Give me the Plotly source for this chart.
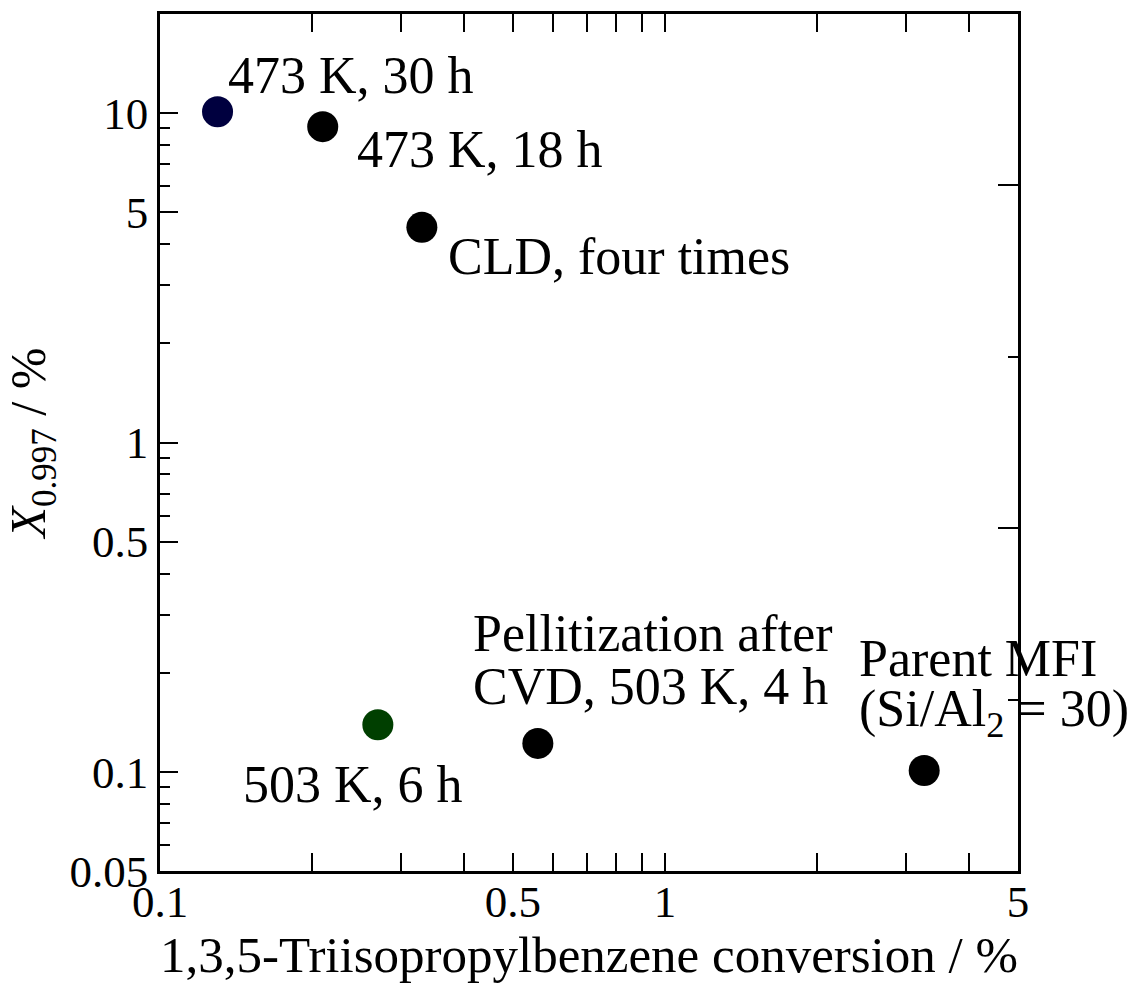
import plotly.graph_objects as go
import math

# ---- data ----
labels = ["473 K, 30 h", "473 K, 18 h", "CLD, four times", "503 K, 6 h",
          "Pellitization after CVD, 503 K, 4 h", "Parent MFI (Si/Al2 = 30)"]
tipb_conv = [0.13, 0.21, 0.33, 0.27, 0.56, 3.26]      # x, %
x0997 = [10.1, 9.1, 4.5, 0.139, 0.122, 0.101]          # y, %
colors = ["#00003f", "#000000", "#000000", "#003f00", "#000000", "#000000"]

x_major = [0.1, 0.5, 1, 5]
x_major_text = ["0.1", "0.5", "1", "5"]
x_minor = [0.2, 0.3, 0.4, 0.6, 0.7, 0.8, 0.9, 2, 3, 4]
y_major = [0.05, 0.1, 0.5, 1, 5, 10]
y_major_text = ["0.05", "0.1", "0.5", "1", "5", "10"]
y_minor = [0.06, 0.07, 0.08, 0.09, 0.2, 0.3, 0.4, 0.6, 0.7, 0.8, 0.9,
           2, 3, 4, 6, 7, 8, 9]

FONT = "Liberation Serif, Times New Roman, serif"

fig = go.Figure()
fig.add_trace(go.Scatter(
    x=tipb_conv, y=x0997, mode="markers",
    marker=dict(size=31, color=colors, line=dict(width=0)),
    showlegend=False, hoverinfo="x+y"))
# empty trace so the right-hand tick axis is drawn
fig.add_trace(go.Scatter(x=[], y=[], yaxis="y2", showlegend=False))

# label placement: (point index, text, xshift, yshift)
label_lines = [
    (0, "473 K, 30 h", 8, 36),
    (1, "473 K, 18 h", 32, -23),
    (2, "CLD, four times", 24, -29),
    (3, "503 K, 6 h", -137, -60),
    (4, "Pellitization after", -67, 110),
    (4, "CVD, 503 K, 4 h", -67, 57),
    (5, "Parent MFI", -67, 112),
    (5, "(Si/Al<sub>2</sub> = 30)", -67, 58),
]
for i, txt, dx, dy in label_lines:
    fig.add_annotation(
        x=math.log10(tipb_conv[i]), y=math.log10(x0997[i]),
        xref="x", yref="y", text=txt, showarrow=False,
        xanchor="left", yanchor="middle", xshift=dx, yshift=dy,
        font=dict(family=FONT, size=52, color="black"))

axis_common = dict(showgrid=False, zeroline=False, showline=True,
                   linecolor="black", linewidth=2.5, ticks="inside",
                   tickcolor="black", tickwidth=2, automargin=False,
                   tickfont=dict(family=FONT, size=45, color="black"))

fig.update_layout(
    width=1132, height=991,
    margin=dict(l=160, r=114, t=14, b=120),
    paper_bgcolor="white", plot_bgcolor="white",
    font=dict(family=FONT, color="black"),
    xaxis=dict(type="log", range=[math.log10(0.1), math.log10(5)],
               tickmode="array", tickvals=x_major, ticktext=x_major_text,
               ticklen=18, mirror="allticks", ticklabelstandoff=-11,
               minor=dict(tickmode="array", tickvals=x_minor, ticklen=10,
                          ticks="inside", tickcolor="black", tickwidth=2),
               title=dict(text="1,3,5-Triisopropylbenzene conversion / %",
                          font=dict(family=FONT, size=51, color="black"),
                          standoff=10),
               **axis_common),
    yaxis=dict(type="log", range=[math.log10(0.05), math.log10(20)],
               tickmode="array", tickvals=y_major, ticktext=y_major_text,
               ticklen=18, mirror=False,
               minor=dict(tickmode="array", tickvals=y_minor, ticklen=10,
                          ticks="inside", tickcolor="black", tickwidth=2),
               title=dict(text="<i>X</i><sub>0.997</sub> / %",
                          font=dict(family=FONT, size=50, color="black"),
                          standoff=10),
               **axis_common),
    yaxis2=dict(overlaying="y", side="right", anchor="x", range=[0, 5],
                showgrid=False, zeroline=False, showline=True,
                automargin=False,
                linecolor="black", linewidth=2.5, ticks="inside",
                tickcolor="black", tickwidth=2, ticklen=20,
                tickmode="array", tickvals=[2, 4], showticklabels=False,
                minor=dict(tickmode="array", tickvals=[1, 3], ticklen=10,
                           ticks="inside", tickcolor="black", tickwidth=2)),
)

fig.write_html("out.html", config={"displayModeBar": False},
               post_script="document.body.style.margin='0';"
                           "document.body.style.overflow='hidden';")
